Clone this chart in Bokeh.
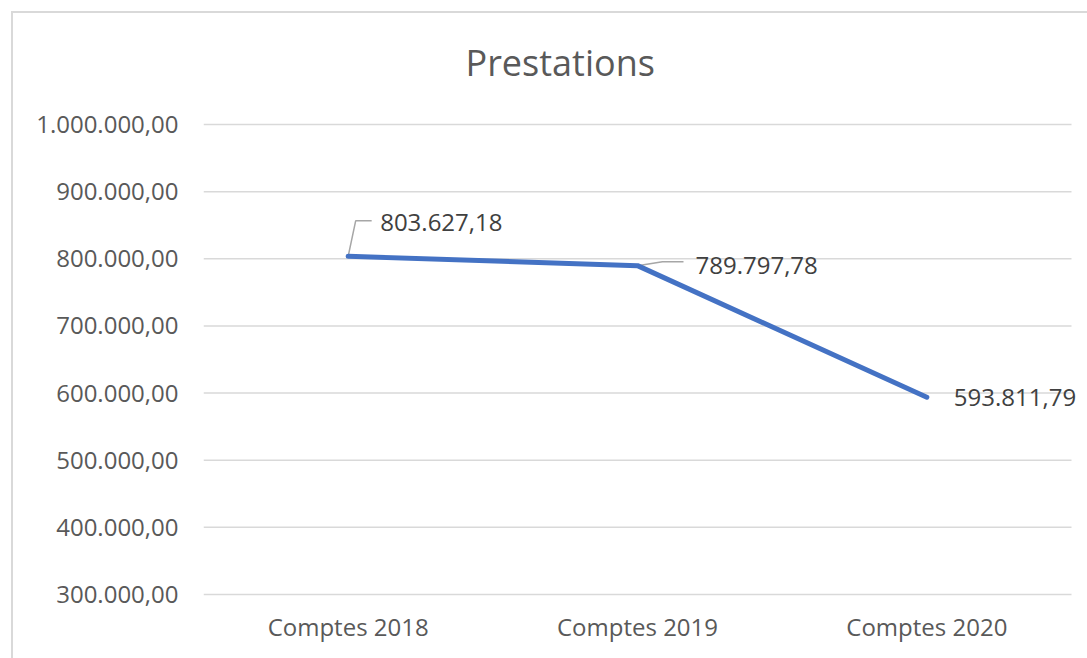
from bokeh.plotting import figure
from bokeh.models import (ColumnDataSource, Range1d, FixedTicker, LabelSet, Title)
from bokeh.core.properties import value
from bokeh.embed import file_html
from bokeh.resources import INLINE

# ---- data ----
categories = ["Comptes 2018", "Comptes 2019", "Comptes 2020"]
values = [803627.18, 789797.78, 593811.79]
tick_values = [300000, 400000, 500000, 600000, 700000, 800000, 900000, 1000000]
tick_labels = ["300.000,00", "400.000,00", "500.000,00", "600.000,00",
               "700.000,00", "800.000,00", "900.000,00", "1.000.000,00"]
title_text = "Prestations"

# ---- styling / layout ----
FONT = "Open Sans"
LINE_COLOR = "#4472C4"
GRID_COLOR = "#D9D9D9"
AXIS_TEXT = "#595959"
LABEL_TEXT = "#404040"
LEADER_COLOR = "#A6A6A6"

cat_w, frame_h = 868, 474          # width of the category area, frame height
extra_right = 16                   # room right of the category area for labels
frame_w = cat_w + extra_right
cat_start, cat_end = -0.5, len(categories) - 0.5
px_x = cat_w / (cat_end - cat_start)
x_start, x_end = cat_start, cat_end + extra_right / px_x
y_start, y_end = 297000, 1003000
px_y = frame_h / (y_end - y_start)

# label offsets in screen pixels (dx right, dy up)
label_dx = [32, 58, 27]
label_dy = [34, 0, 0]
# leader-line polyline offsets in screen pixels, per point
leader_px = [
    [(0, 0), (7.5, 35.5), (23.5, 35.5)],
    [(0, 0), (25, 4), (46, 4)],
    [],
]


def fmt(v):
    s = f"{v:,.2f}"
    return s.replace(",", "X").replace(".", ",").replace("X", ".")


xs_idx = list(range(len(categories)))

p = figure(width=1087, height=658, output_backend="svg", toolbar_location=None,
           x_range=Range1d(x_start, x_end), y_range=Range1d(y_start, y_end),
           frame_width=frame_w, frame_height=frame_h,
           min_border_left=203, min_border_right=0, min_border_top=122,
           min_border_bottom=62)
p.title = Title(text=title_text, align="left", offset=262, vertical_align="top",
                text_font=FONT, text_font_size="36px", text_font_style="normal",
                text_color=AXIS_TEXT, standoff=68)
p.outline_line_color = None
p.border_fill_alpha = 0
p.background_fill_color = "white"
p.styles = {"box-shadow": "inset 11px 11px 0 0 #ffffff, inset 13px 13px 0 0 #D9D9D9"}

# axes
p.xaxis.ticker = FixedTicker(ticks=xs_idx)
p.xaxis.major_label_overrides = {i: c for i, c in zip(xs_idx, categories)}
p.yaxis.ticker = FixedTicker(ticks=tick_values)
p.yaxis.major_label_overrides = {t: l for t, l in zip(tick_values, tick_labels)}
for ax in (p.xaxis, p.yaxis):
    ax.axis_line_color = None
    ax.major_tick_line_color = None
    ax.minor_tick_line_color = None
    ax.major_tick_out = 0
    ax.major_tick_in = 0
    ax.major_label_text_font = FONT
    ax.major_label_text_font_size = "24px"
    ax.major_label_text_color = AXIS_TEXT
p.xaxis.major_label_standoff = 13
p.yaxis.major_label_standoff = 25

p.xgrid.grid_line_color = None
p.ygrid.grid_line_color = None

# horizontal gridlines across the category area only
p.segment(x0=[cat_start] * len(tick_values), y0=tick_values,
          x1=[cat_end] * len(tick_values), y1=tick_values,
          line_color=GRID_COLOR, line_width=1.5)

# leader lines (computed from data positions + pixel offsets)
lx, ly = [], []
for i, v in enumerate(values):
    if leader_px[i]:
        lx.append([i + dx / px_x for dx, dy in leader_px[i]])
        ly.append([v + dy / px_y for dx, dy in leader_px[i]])
if lx:
    p.multi_line(lx, ly, line_color=LEADER_COLOR, line_width=1.5)

# main line
src = ColumnDataSource(dict(x=xs_idx, y=values,
                            txt=[fmt(v) for v in values],
                            dx=label_dx, dy=label_dy))
p.line("x", "y", source=src, line_color=LINE_COLOR, line_width=5,
       line_cap="round", line_join="round")

labels = LabelSet(x="x", y="y", text="txt", source=src,
                  x_offset="dx", y_offset="dy",
                  text_align="left", text_baseline="middle",
                  text_font=value(FONT), text_font_size=value("24px"),
                  text_color=LABEL_TEXT)
p.add_layout(labels)

open("out.html", "w").write(file_html(p, INLINE))
